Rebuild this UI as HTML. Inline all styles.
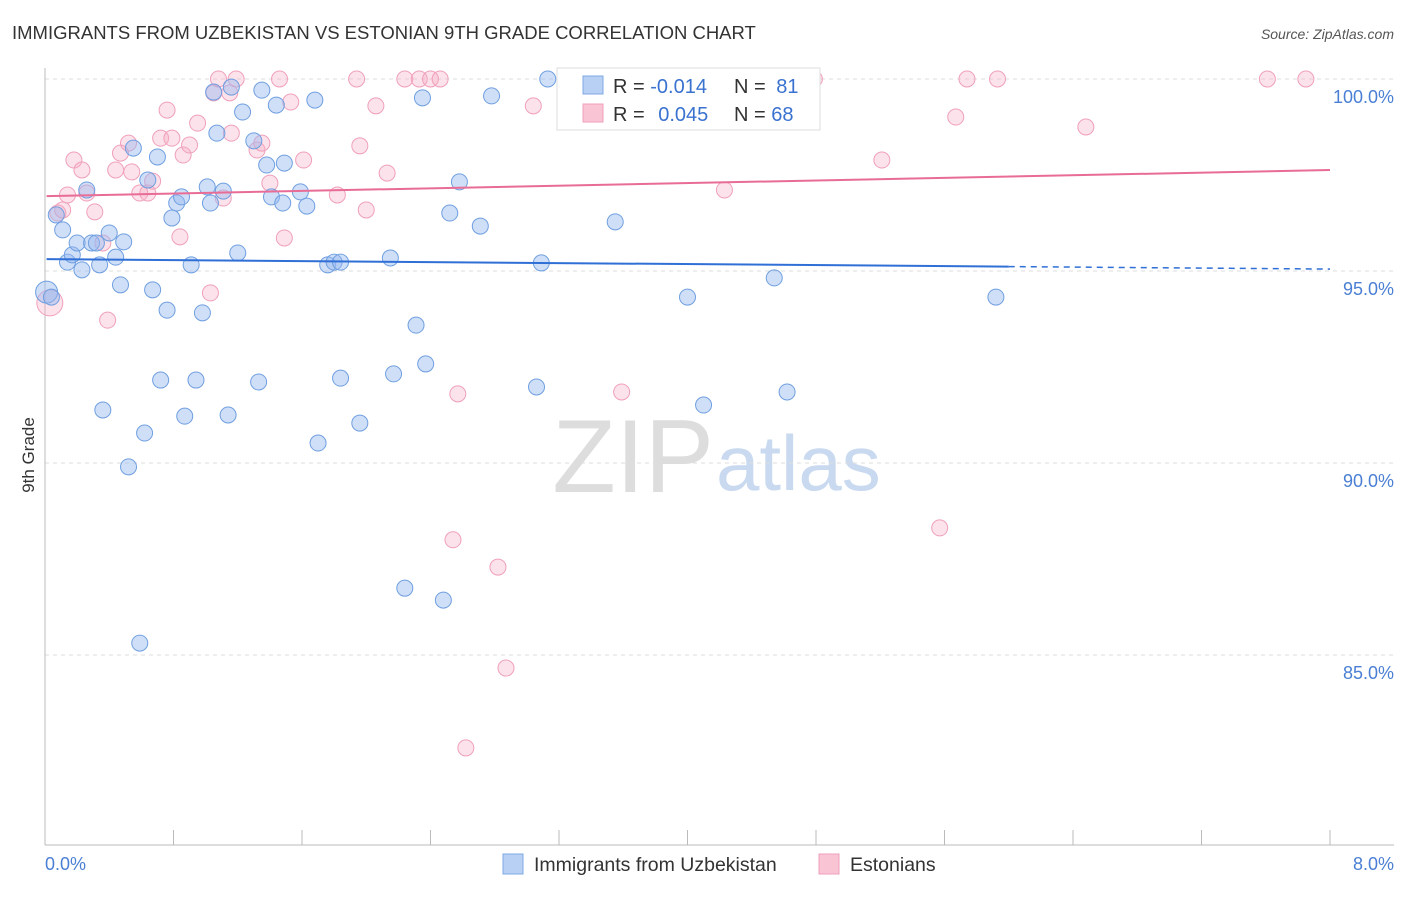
<!DOCTYPE html>
<html><head><meta charset="utf-8"><style>
body{margin:0;background:#fff;font-family:"Liberation Sans",sans-serif}
svg text{font-family:"Liberation Sans",sans-serif}
</style></head><body>
<svg width="1406" height="892" xmlns="http://www.w3.org/2000/svg">
<text x="12" y="39" font-size="18.5" fill="#333">IMMIGRANTS FROM UZBEKISTAN VS ESTONIAN 9TH GRADE CORRELATION CHART</text>
<text x="1394" y="39" font-size="14" fill="#555" font-style="italic" text-anchor="end">Source: ZipAtlas.com</text>
<text x="714" y="492" font-size="104" fill="#ddd" text-anchor="end" font-family="Liberation Serif">ZIP</text>
<text x="716" y="490" font-size="78" fill="#c9d9f0">atlas</text>
<g id="grid"></g>
<g id="axes"></g>
<g id="pts"></g>
<g id="trend"></g>
<text transform="translate(34,455) rotate(-90)" font-size="17" fill="#333" text-anchor="middle">9th Grade</text>
<text x="45" y="870" font-size="18" fill="#4a7fd4">0.0%</text>
<text x="1394" y="870" font-size="18" fill="#4a7fd4" text-anchor="end">8.0%</text>
<g>
<rect x="557" y="68" width="263" height="62" fill="#fff" stroke="#ddd"/>
<rect x="583" y="76" width="20" height="18" fill="#b8d0f4" stroke="#7fa8e4"/>
<rect x="583" y="104" width="20" height="18" fill="#f9c4d4" stroke="#f0a0bb"/>
<text x="613" y="93" font-size="20" fill="#333">R = <tspan fill="#3a72d0">-0.014</tspan></text>
<text x="734" y="93" font-size="20" fill="#333">N = <tspan fill="#3a72d0" dx="5">81</tspan></text>
<text x="613" y="121" font-size="20" fill="#333">R = <tspan fill="#3a72d0" dx="8">0.045</tspan></text>
<text x="734" y="121" font-size="20" fill="#333">N = <tspan fill="#3a72d0">68</tspan></text>
</g>
<g>
<rect x="503" y="854" width="20" height="20" fill="#b8d0f4" stroke="#7fa8e4"/>
<text x="534" y="871" font-size="19.5" fill="#333">Immigrants from Uzbekistan</text>
<rect x="819" y="854" width="20" height="20" fill="#f9c4d4" stroke="#f0a0bb"/>
<text x="850" y="871" font-size="19.5" fill="#333">Estonians</text>
</g>
</svg>
<script>
const yTicks=[100,95,90,85];
const xTickCount=10;
const blueX=[0.01,0.04,0.07,0.11,0.14,0.17,0.20,0.23,0.26,0.29,0.32,0.34,0.36,0.40,0.44,0.47,0.49,0.52,0.55,0.59,0.62,0.64,0.67,0.70,0.72,0.76,0.79,0.82,0.85,0.87,0.91,0.94,0.98,1.01,1.03,1.05,1.07,1.11,1.14,1.16,1.20,1.23,1.30,1.33,1.35,1.38,1.41,1.44,1.48,1.49,1.59,1.63,1.68,1.70,1.76,1.80,1.84,1.84,1.96,2.15,2.17,2.24,2.31,2.35,2.37,2.48,2.52,2.58,2.71,2.78,3.06,3.09,3.13,3.55,4.00,4.10,4.54,4.62,5.92];
const blueY=[94.45,94.32,96.46,96.07,95.23,95.42,95.73,95.03,97.11,95.73,95.73,95.16,91.38,95.99,95.36,94.64,95.76,89.90,98.20,85.31,90.78,97.37,94.51,97.97,92.16,93.98,96.38,96.77,96.93,91.22,95.16,92.16,93.91,97.19,96.77,99.66,98.59,97.08,91.25,99.79,95.47,99.14,98.39,92.11,99.71,97.76,96.93,99.32,96.77,97.81,97.06,96.69,99.45,90.52,95.16,95.23,95.23,92.21,91.04,95.34,92.32,86.74,93.59,99.51,92.58,86.43,96.51,97.32,96.17,99.56,91.98,95.21,100.0,96.28,94.32,91.51,94.82,91.85,94.32];
const pinkX=[0.03,0.08,0.11,0.14,0.18,0.23,0.26,0.31,0.36,0.39,0.44,0.47,0.52,0.54,0.59,0.64,0.67,0.72,0.76,0.79,0.84,0.86,0.90,0.95,1.03,1.05,1.08,1.11,1.15,1.16,1.19,1.32,1.35,1.40,1.46,1.49,1.53,1.61,1.82,1.94,1.96,2.00,2.06,2.13,2.24,2.33,2.40,2.46,2.54,2.57,2.62,2.82,2.87,3.04,3.26,3.59,4.02,4.23,4.79,5.21,5.57,5.67,5.74,5.93,6.48,7.61,7.85];
const pinkY=[94.17,96.51,96.59,96.98,97.89,97.63,97.03,96.54,95.73,93.72,97.63,98.07,98.33,97.58,97.03,97.03,97.34,98.46,99.19,98.46,95.89,98.02,98.28,98.85,94.43,99.64,100,96.90,99.64,98.59,100,98.15,98.33,97.29,100,95.86,99.40,97.89,96.98,100,98.26,96.59,99.30,97.55,100,100,100,100,88.00,91.80,82.58,87.29,84.66,99.30,100,91.85,100,97.11,100,97.89,88.31,99.01,100,100,98.75,100,100];
const blueTrend=[95.31,95.05];
const pinkTrend=[96.95,97.63];
const NS="http://www.w3.org/2000/svg";
const X=v=>45+v/8*1285;
const Y=v=>79+(100-v)/5*192;
function mk(t,a,p){const e=document.createElementNS(NS,t);for(const k in a)e.setAttribute(k,a[k]);document.getElementById(p).appendChild(e);return e;}
yTicks.forEach(t=>{
 const l=mk('line',{x1:45,x2:1394,y1:Y(t),y2:Y(t),stroke:'#ddd','stroke-dasharray':'4,4'},'grid');
 
 
 const tx=mk('text',{x:1394,y:Y(t)+24,'font-size':18,fill:'#4a7fd4','text-anchor':'end'},'grid');
 tx.textContent=t.toFixed(1)+'%';
 
 
});
const ax=mk('line',{x1:45,x2:45,y1:68,y2:845,stroke:'#bbb'},'axes');


const bx=mk('line',{x1:45,x2:1394,y1:845,y2:845,stroke:'#bbb'},'axes');


for(let i=0;i<=xTickCount;i++){
 const t=mk('line',{x1:X(i*0.8),x2:X(i*0.8),y1:830,y2:845,stroke:'#bbb'},'axes');
 
 
}
function pts(xs,ys,fill,stroke,name){
 xs.forEach((x,i)=>{
  const c=mk('circle',{cx:X(x),cy:Y(ys[i]),r:(i===0?(name==='pink-point'?13:11):8),fill:fill,stroke:stroke,'stroke-width':1},'pts');
  
  
 });
}
pts(pinkX,pinkY,'rgba(246,172,196,0.35)','#f0a0bb','pink-point');
pts(blueX,blueY,'rgba(150,185,240,0.45)','#6f9fe0','blue-point');
const bl=mk('line',{x1:X(0.01),y1:Y(blueTrend[0]+(blueTrend[1]-blueTrend[0])*0.01/8),x2:X(6),y2:Y(blueTrend[0]+(blueTrend[1]-blueTrend[0])*6/8),stroke:'#2f6fd6','stroke-width':2},'trend');


const bd=mk('line',{x1:X(6),y1:Y(blueTrend[0]+(blueTrend[1]-blueTrend[0])*6/8),x2:X(8),y2:Y(blueTrend[1]),stroke:'#2f6fd6','stroke-width':1.5,'stroke-dasharray':'6,5'},'trend');


const pl=mk('line',{x1:X(0.01),y1:Y(pinkTrend[0]),x2:X(8),y2:Y(pinkTrend[1]),stroke:'#e86c96','stroke-width':2},'trend');


</script>
</body></html>
